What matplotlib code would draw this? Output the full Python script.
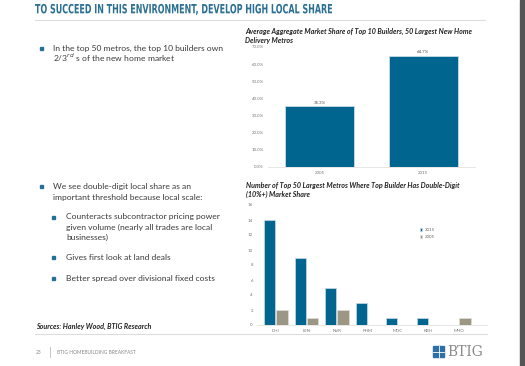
import matplotlib
matplotlib.use("Agg")
import matplotlib.pyplot as plt
from matplotlib.patches import Rectangle, PathPatch
from matplotlib.textpath import TextPath
from matplotlib.font_manager import FontProperties
from matplotlib.transforms import Affine2D

W, H = 525, 366
BLUE = "#00658f"
GRAY = "#9b9784"
TEAL = "#2b6f92"
TXT = "#3a3a3a"

# top chart data
share_years = ["2005", "2015"]
share_vals = [35.3, 64.7]
share_ticks = [0, 10, 20, 30, 40, 50, 60, 70]

# bottom chart data
builders = ["DHI", "LEN", "NVR", "PHM", "MDC", "KBH", "MHO"]
metros_2015 = [14, 9, 5, 3, 1, 1, 0]
metros_2005 = [2, 1, 2, 0, 0, 0, 1]
metro_ticks = [0, 2, 4, 6, 8, 10, 12, 14, 16]

left_bullets = [
    (0, 48, "In the top 50 metros, the top 10 builders own"),
    (0, 57.5, "2/3$^{rd}$ s of the new home market"),
    (0, 186, "We see double-digit local share as an"),
    (0, 197, "important threshold because local scale:"),
    (1, 217, "Counteracts subcontractor pricing power"),
    (1, 227, "given volume (nearly all trades are local"),
    (1, 237, "businesses)"),
    (1, 257, "Gives first look at land deals"),
    (1, 278, "Better spread over divisional fixed costs"),
]
bullet_rows = [(0, 48), (0, 186), (1, 217), (1, 257), (1, 278)]

plt.rcParams["font.family"] = ["Lato", "DejaVu Sans"]

fig = plt.figure(figsize=(W / 100, H / 100), dpi=100)
fig.patch.set_facecolor("white")


def px(x, y):
    return x / W, 1 - y / H


def add_ax(l, t, r, b):
    return fig.add_axes([l / W, 1 - b / H, (r - l) / W, (b - t) / H])


# page title: condensed look by squeezing the glyph outlines
title = "TO SUCCEED IN THIS ENVIRONMENT, DEVELOP HIGH LOCAL SHARE"
tp = TextPath((0, 0), title, size=12.7,
              prop=FontProperties(family="DejaVu Sans", weight="bold"))
tw = tp.get_extents().width
fig.add_artist(PathPatch(tp, color=TEAL, lw=0,
                         transform=Affine2D().scale(297 / tw, 1)
                         .translate(35, H - 13.3)))

fig.add_artist(plt.Line2D([35 / W, 485 / W], [1 - 19.5 / H] * 2,
                          color="#dddddd", lw=0.8))
fig.add_artist(plt.Line2D([35 / W, 487 / W], [1 - 334 / H] * 2,
                          color="#dddddd", lw=0.8))
fig.add_artist(Rectangle((520 / W, 0), 5 / W, 1, color="#555555",
                         transform=fig.transFigure))

for lvl, y, s in left_bullets:
    fig.text(*px(53 + lvl * 13, y), s, fontsize=6.1, color=TXT, va="center")
for lvl, y in bullet_rows:
    fig.add_artist(Rectangle(px(40 + lvl * 12, y + 1.6), 3 / W, 3 / H,
                             color=TEAL, transform=fig.transFigure))

fig.text(*px(36, 326), "Sources: Hanley Wood, BTIG Research", fontsize=5.1,
         style="italic", fontweight="bold", color="#222222", va="center")
fig.text(*px(36, 352), "23", fontsize=3.5, color="#888888", va="center")
fig.add_artist(plt.Line2D([50 / W] * 2, [1 - 347 / H, 1 - 357 / H],
                          color="#bbbbbb", lw=0.6))
fig.text(*px(57, 352), "BTIG HOMEBUILDING BREAKFAST", fontsize=3.5,
         color="#888888", va="center")
fig.add_artist(Rectangle(px(433, 357), 11 / W, 11 / H, color="#2f6fa8",
                         transform=fig.transFigure))
fig.add_artist(plt.Line2D([438.5 / W] * 2, [1 - 357 / H, 1 - 346 / H],
                          color="white", lw=0.6))
fig.add_artist(plt.Line2D([433 / W, 444 / W], [1 - 351.5 / H] * 2,
                          color="white", lw=0.6))
fig.text(*px(447, 352), "BTIG", fontsize=10, family="DejaVu Serif",
         color="#8a8a8a", va="center")

# top chart
fig.text(*px(245, 36), "Average Aggregate Market Share of Top 10 Builders, 50 Largest New Home\nDelivery Metros",
         fontsize=5.1, style="italic", fontweight="bold", color="#222222",
         va="center", linespacing=1.3)
ax1 = add_ax(268, 47, 475, 167)
bars = ax1.bar(share_years, share_vals, width=0.67, color=BLUE,
               edgecolor="#c9dbe6", lw=0.6)
for b, v in zip(bars, share_vals):
    ax1.text(b.get_x() + b.get_width() / 2, v + 1, f"{v:.1f}%",
             ha="center", va="bottom", fontsize=3.2, color="#555555")
ax1.set_xlim(-0.5, 1.5)
ax1.set_ylim(0, 70)
ax1.set_yticks(share_ticks)
ax1.set_yticklabels([f"{t:.1f}%" for t in share_ticks])

# bottom chart
fig.text(*px(246, 190), "Number of Top 50 Largest Metros Where Top Builder Has Double-Digit\n(10%+) Market Share",
         fontsize=5.1, style="italic", fontweight="bold", color="#222222",
         va="center", linespacing=1.3)
ax2 = add_ax(257, 205, 487, 325)
x = range(len(builders))
ax2.bar([i - 0.2 for i in x], metros_2015, width=0.37, color=BLUE,
        edgecolor="#c9dbe6", lw=0.5, label="2015")
ax2.bar([i + 0.2 for i in x], metros_2005, width=0.37, color=GRAY,
        edgecolor="#e0ded6", lw=0.5, label="2005")
ax2.set_xticks(list(x))
ax2.set_xticklabels(builders)
ax2.set_xlim(-0.62, 6.92)
ax2.set_ylim(0, 16)
ax2.set_yticks(metro_ticks)
ax2.legend(loc="upper left", bbox_to_anchor=(0.69, 0.84), frameon=False,
           fontsize=3.2, handlelength=0.6, handleheight=0.6,
           handletextpad=0.5, labelspacing=0.6, labelcolor="#666666")

for ax in (ax1, ax2):
    for s in ("top", "left", "right"):
        ax.spines[s].set_visible(False)
    ax.spines["bottom"].set_color("#e3e3e3")
    ax.spines["bottom"].set_linewidth(0.6)
    ax.tick_params(length=0, labelsize=3.2, colors="#777777", pad=3)

fig.savefig("out.png", dpi=100)
